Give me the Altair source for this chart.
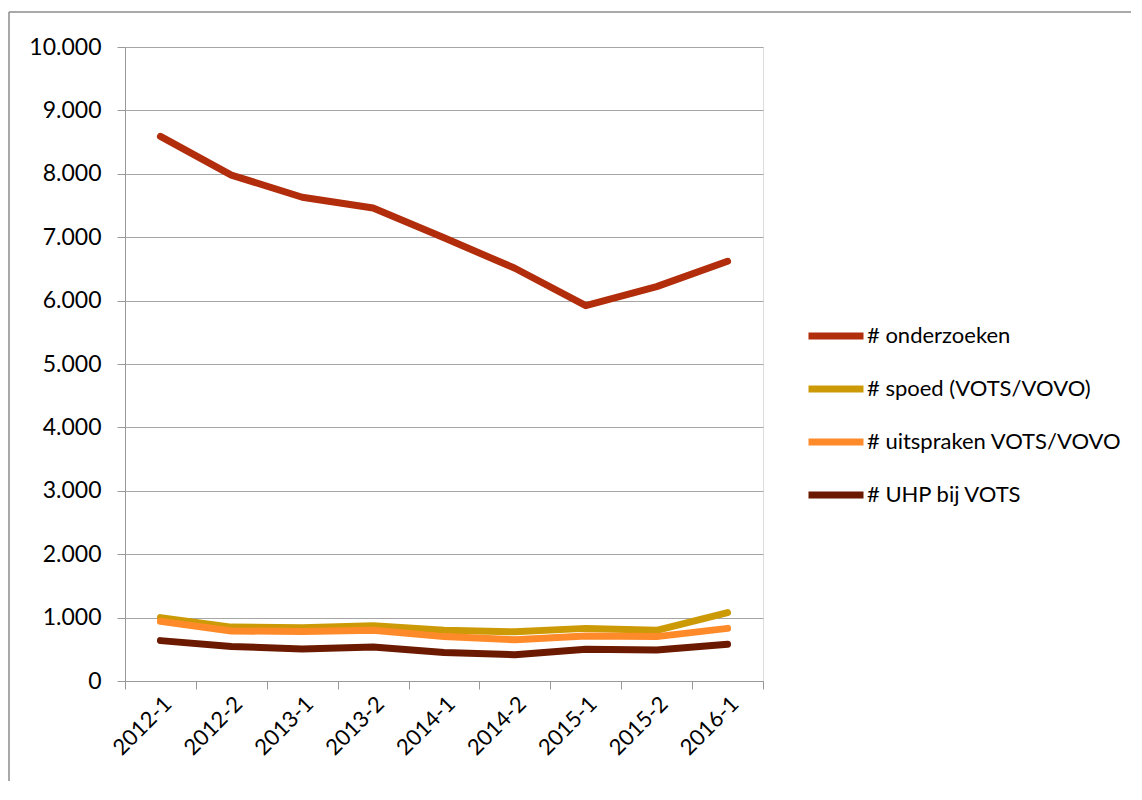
import altair as alt
import pandas as pd

periods = ["2012-1", "2012-2", "2013-1", "2013-2", "2014-1", "2014-2", "2015-1", "2015-2", "2016-1"]
series_names = ["# onderzoeken", "# spoed (VOTS/VOVO)", "# uitspraken VOTS/VOVO", "# UHP bij VOTS"]
onderzoeken = [8590, 7980, 7630, 7460, 6990, 6510, 5920, 6220, 6620]
spoed = [1000, 850, 840, 870, 800, 775, 830, 800, 1080]
uitspraken = [940, 790, 780, 800, 700, 650, 710, 700, 830]
uhp = [637, 545, 505, 535, 450, 415, 500, 490, 580]
colors = ["#B22D0B", "#CC9A06", "#FF8A2A", "#6B1A00"]

rows = []
for name, vals in zip(series_names, [onderzoeken, spoed, uitspraken, uhp]):
    for p, v in zip(periods, vals):
        rows.append({"periode": p, "serie": name, "waarde": v})
df = pd.DataFrame(rows)

FONT = "Lato"

lines = alt.Chart(df).mark_line(strokeWidth=7, strokeCap="round", strokeJoin="round").encode(
    x=alt.X("periode:O", sort=periods, bandPosition=0.5,
            scale=alt.Scale(type="band", paddingInner=0, paddingOuter=0),
            axis=alt.Axis(title=None, labelAngle=315, labelAlign="right", labelBaseline="top",
                          tickBand="extent", grid=False, labelFontSize=22, labelFont=FONT,
                          labelColor="#000000", domainColor="#999999", tickColor="#999999",
                          tickSize=8, labelPadding=4)),
    y=alt.Y("waarde:Q", scale=alt.Scale(domain=[0, 10000], nice=False),
            axis=alt.Axis(title=None, values=list(range(0, 10001, 1000)),
                          labelExpr="replace(format(datum.value, ','), ',', '.')",
                          grid=True, gridColor="#A6A6A6", gridWidth=1.2,
                          domainColor="#999999", tickColor="#999999", tickSize=8,
                          labelFontSize=23, labelFont=FONT, labelColor="#000000", labelPadding=16)),
    color=alt.Color("serie:N", sort=series_names,
                    scale=alt.Scale(domain=series_names, range=colors),
                    legend=alt.Legend(title=None, orient="none", legendX=680, legendY=258,
                                      symbolType="stroke", symbolSize=3025, symbolStrokeWidth=7,
                                      labelFontSize=22, labelFont=FONT, labelColor="#000000",
                                      labelLimit=400, rowPadding=8, labelOffset=0, symbolOffset=0)),
)

one = alt.Data(values=[{"a": 1}])
frame_top = alt.Chart(one).mark_rule(stroke="#8C8C8C", strokeWidth=1.5).encode(
    x=alt.value(-116), x2=alt.value(1200), y=alt.value(-35)
)
frame_left = alt.Chart(one).mark_rule(stroke="#8C8C8C", strokeWidth=1.5).encode(
    x=alt.value(-116), y=alt.value(-35), y2=alt.value(900)
)

chart = alt.layer(frame_top, frame_left, lines).properties(
    width=638, height=634,
    autosize=alt.AutoSizeParams(type="none"),
    padding={"left": 117, "top": 39, "right": 368, "bottom": 100},
).configure_view(stroke=None).configure(background="white")

chart.save("out.html", embed_options={"renderer": "svg", "actions": False})
